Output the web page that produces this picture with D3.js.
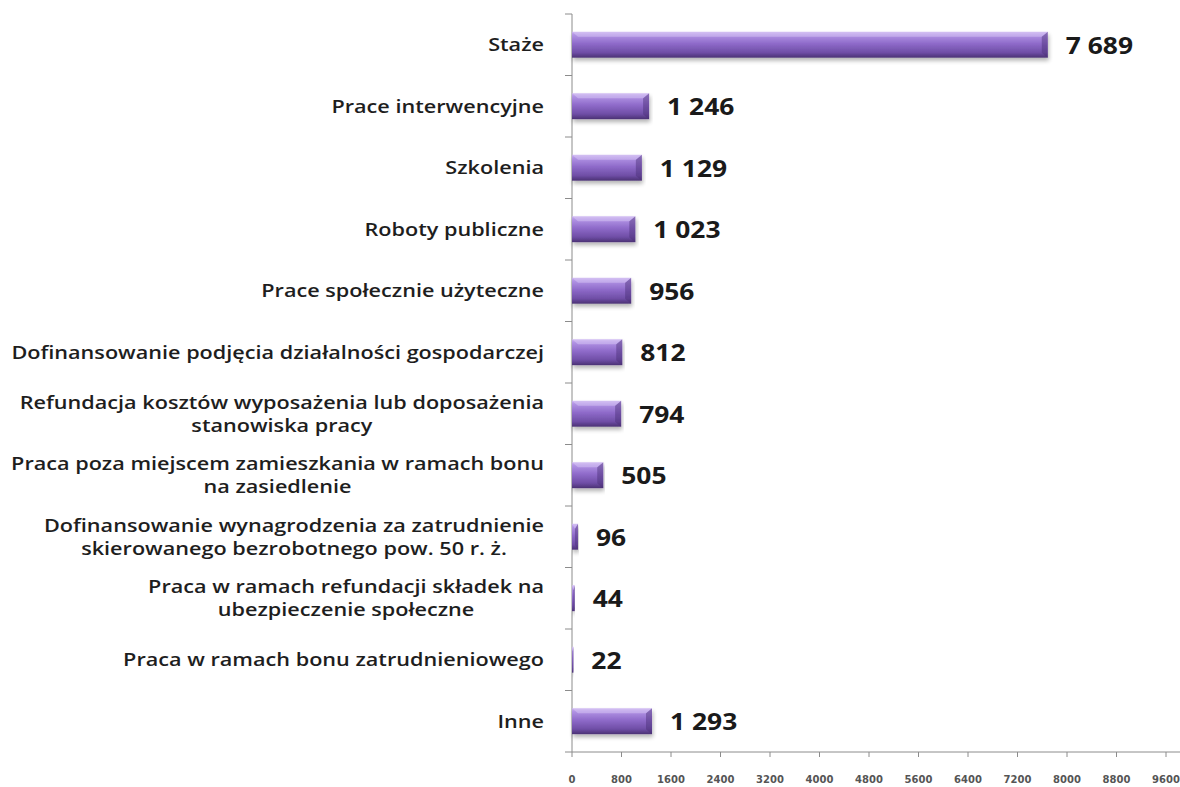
<!DOCTYPE html>
<html>
<head>
<meta charset="utf-8">
<script src="https://cdn.jsdelivr.net/npm/d3@7"></script>
<style>
  body { margin: 0; background: #fff; }
  svg { display: block; }
</style>
</head>
<body>
<svg id="chart" width="1180" height="787"></svg>
<script>
// data
var categories = [
    "Staże",
    "Prace interwencyjne",
    "Szkolenia",
    "Roboty publiczne",
    "Prace społecznie użyteczne",
    "Dofinansowanie podjęcia działalności gospodarczej",
    "Refundacja kosztów wyposażenia lub doposażenia\nstanowiska pracy",
    "Praca poza miejscem zamieszkania w ramach bonu\nna zasiedlenie",
    "Dofinansowanie wynagrodzenia za zatrudnienie\nskierowanego bezrobotnego pow. 50 r. ż.",
    "Praca w ramach refundacji składek na\nubezpieczenie społeczne",
    "Praca w ramach bonu zatrudnieniowego",
    "Inne"
];
var values = [7689, 1246, 1129, 1023, 956, 812, 794, 505, 96, 44, 22, 1293];
var valueLabels = ["7 689", "1 246", "1 129", "1 023", "956", "812", "794", "505", "96", "44", "22", "1 293"];
var xTicks = [0, 800, 1600, 2400, 3200, 4000, 4800, 5600, 6400, 7200, 8000, 8800, 9600];

var svg = d3.select("#chart");
var x0 = 572, x1 = 1166, yTop = 14, yBottom = 752;

var x = d3.scaleLinear()
    .domain([0, 9600])
    .range([x0, x1]);

var y = d3.scaleBand()
    .domain(categories)
    .range([yTop, yBottom])
    .paddingInner(0.58)
    .paddingOuter(0.29);

var step = (yBottom - yTop) / categories.length;

// gradients
var defs = svg.append("defs");
var grad = defs.append("linearGradient")
    .attr("id", "barGrad")
    .attr("x1", 0).attr("y1", 0).attr("x2", 0).attr("y2", 1);
[["0%", "#c9b0ee"], ["12%", "#b193e4"], ["45%", "#8f6bca"], ["80%", "#6f4ea6"], ["100%", "#4b3174"]]
    .forEach(function(s) { grad.append("stop").attr("offset", s[0]).attr("stop-color", s[1]); });

var shadow = defs.append("filter").attr("id", "shadow")
    .attr("x", "-5%").attr("y", "-30%").attr("width", "110%").attr("height", "180%");
shadow.append("feGaussianBlur").attr("in", "SourceAlpha").attr("stdDeviation", 2);
shadow.append("feOffset").attr("dx", 1).attr("dy", 3).attr("result", "ob");
shadow.append("feComponentTransfer").append("feFuncA").attr("type", "linear").attr("slope", 0.3);
var merge = shadow.append("feMerge");
merge.append("feMergeNode");
merge.append("feMergeNode").attr("in", "SourceGraphic");

// axes
svg.append("line")
    .attr("x1", x0).attr("x2", x0)
    .attr("y1", yTop).attr("y2", yBottom)
    .attr("stroke", "#8c8c8c").attr("stroke-width", 1);

svg.selectAll(".ytick")
    .data(d3.range(categories.length + 1))
    .enter().append("line")
    .attr("class", "ytick")
    .attr("x1", x0 - 7).attr("x2", x0)
    .attr("y1", function(i) { return yTop + i * step; })
    .attr("y2", function(i) { return yTop + i * step; })
    .attr("stroke", "#8c8c8c");

svg.append("line")
    .attr("x1", x0).attr("x2", 1180)
    .attr("y1", yBottom).attr("y2", yBottom)
    .attr("stroke", "#8c8c8c");

svg.selectAll(".xtick")
    .data(xTicks)
    .enter().append("line")
    .attr("class", "xtick")
    .attr("x1", function(d) { return x(d); })
    .attr("x2", function(d) { return x(d); })
    .attr("y1", yBottom).attr("y2", yBottom + 5)
    .attr("stroke", "#8c8c8c");

svg.selectAll(".xlabel")
    .data(xTicks)
    .enter().append("text")
    .attr("class", "xlabel")
    .attr("x", function(d) { return x(d); })
    .attr("y", yBottom + 31)
    .attr("text-anchor", "middle")
    .style("font-family", "DejaVu Sans")
    .style("font-size", "10px")
    .style("font-weight", "bold")
    .attr("fill", "#555")
    .text(function(d) { return d; });

// bars
var bars = svg.selectAll(".bar")
    .data(values)
    .enter().append("g")
    .attr("class", "bar")
    .attr("filter", "url(#shadow)");

bars.append("rect")
    .attr("x", x0)
    .attr("y", function(d, i) { return y(categories[i]); })
    .attr("width", function(d) { return Math.max(1, x(d) - x0); })
    .attr("height", y.bandwidth())
    .attr("fill", "url(#barGrad)");

// bevel at the right end
bars.append("path")
    .attr("d", function(d, i) {
        var xe = x(d), yt = y(categories[i]), yb = yt + y.bandwidth();
        var b = Math.min(6, (xe - x0) / 2);
        return "M" + (xe - b) + "," + (yt + 5) + "L" + xe + "," + yt +
            "L" + xe + "," + yb + "L" + (xe - b) + "," + (yb - 5) + "Z";
    })
    .attr("fill", "#4a2f75")
    .attr("opacity", 0.45);

bars.append("path")
    .attr("d", function(d, i) {
        var xe = x(d), yt = y(categories[i]);
        var b = Math.min(6, (xe - x0) / 2);
        return "M" + x0 + "," + yt + "L" + xe + "," + yt +
            "L" + (xe - b) + "," + (yt + 5) + "L" + (x0 + b) + "," + (yt + 5) + "Z";
    })
    .attr("fill", "#e4d6fa")
    .attr("opacity", 0.4);

// value labels (slightly stretched like the source)
svg.selectAll(".value")
    .data(values)
    .enter().append("text")
    .attr("class", "value")
    .attr("transform", function(d, i) {
        return "translate(" + (x(d) + 18) + "," + (y(categories[i]) + y.bandwidth() / 2 + 9) + ") scale(1.1,1)";
    })
    .style("font-family", "Open Sans")
    .style("font-size", "24px")
    .style("font-weight", "bold")
    .attr("fill", "#1a1a1a")
    .text(function(d, i) { return valueLabels[i]; });

// category labels, wrapped lines centred, block right aligned
var labelRight = 544;
categories.forEach(function(c, i) {
    var lines = c.split("\n");
    var cy = y(c) + y.bandwidth() / 2;
    var lh = 23;
    var g = svg.append("g").attr("class", "cat")
        .attr("transform", "translate(" + labelRight + ",0) scale(1.17,1)");
    var texts = lines.map(function(l, k) {
        return g.append("text")
            .attr("y", cy + (k - (lines.length - 1) / 2) * lh + 6.5)
            .attr("text-anchor", "middle")
            .style("font-family", "Open Sans")
            .style("font-size", "18.5px")
            .style("font-weight", "600")
            .attr("fill", "#1e1e1e")
            .text(l);
    });
    var w = d3.max(texts, function(t) { return t.node().getComputedTextLength(); });
    texts.forEach(function(t) { t.attr("x", -w / 2); });
});
</script>
</body>
</html>
